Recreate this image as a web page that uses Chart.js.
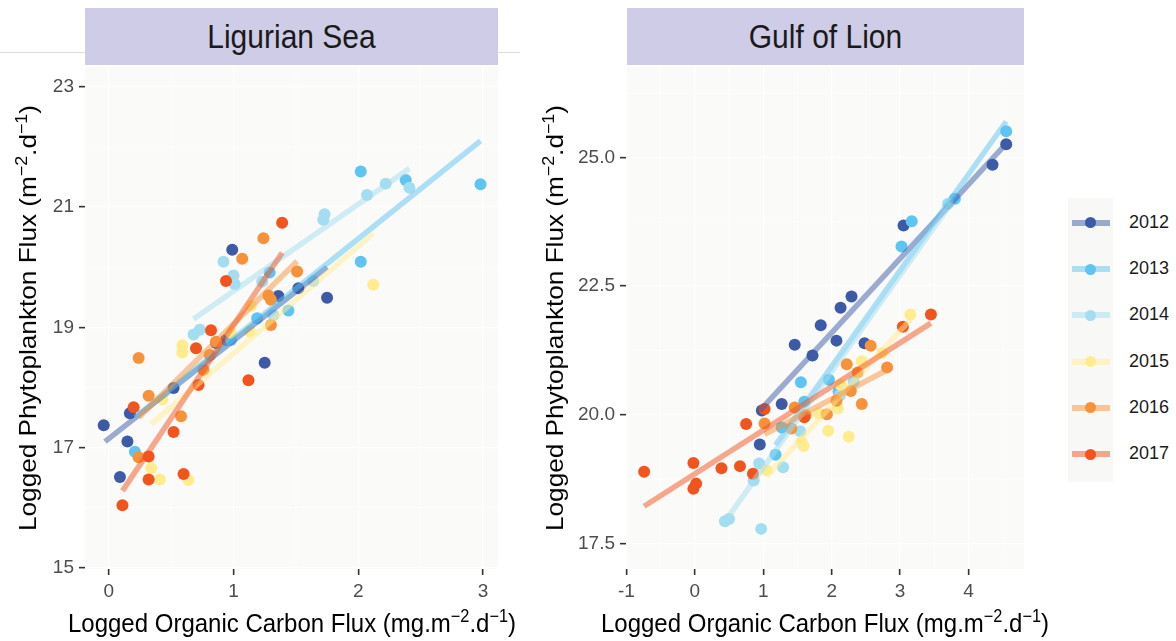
<!DOCTYPE html>
<html>
<head>
<meta charset="utf-8">
<script src="https://cdn.jsdelivr.net/npm/chart.js@4.4.1/dist/chart.umd.min.js"></script>
<style>
  body { margin: 0; background: #fff; font-family: "Liberation Sans", Arial, sans-serif; }
  #page { position: relative; width: 1176px; height: 641px; overflow: hidden; }
  .rule { position: absolute; left: 0; top: 52px; width: 520px; height: 1px; background: #dcdcdc; }
  .strip { position: absolute; top: 8px; height: 57px; background: #cecce6; color: #1a1a1a;
           font-size: 30px; display: flex; align-items: center; justify-content: center; }
  .strip span { display: inline-block; transform: scaleY(1.08); }
  .box { position: absolute; top: 61px; line-height: 0; }
  canvas { display: block; }
  .ytitle { position: absolute; top: 318px; font-size: 24px; color: #000; white-space: nowrap;
            transform: translate(-50%, -50%) rotate(-90deg) scaleX(1.09); }
  .xtitle { position: absolute; top: 609px; font-size: 24px; color: #000; white-space: nowrap;
            transform: translateX(-50%) scaleY(1.09); }
  sup { font-size: 0.68em; vertical-align: 0.55em; line-height: 0; }
  #legend { position: absolute; left: 1068px; top: 198px; width: 45px; height: 284px; background: #f8f8f6; }
  .key { position: absolute; left: 1072px; width: 38px; height: 6px; }
  .dot { position: absolute; left: 1085px; width: 11px; height: 11px; border-radius: 50%; }
  .lab { position: absolute; left: 1129px; font-size: 18px; color: #1a1a1a; }
</style>
</head>
<body>
<div id="page">
  <div class="rule"></div>
  <div class="strip" style="left:85px;width:413px;"><span>Ligurian Sea</span></div>
  <div class="strip" style="left:627px;width:397px;"><span>Gulf of Lion</span></div>

  <div class="box" style="left:0px;"><canvas id="ligurian" width="510" height="545"></canvas></div>
  <div class="box" style="left:540px;"><canvas id="lion" width="500" height="545"></canvas></div>

  <div class="ytitle" style="left:28px;">Logged Phytoplankton Flux (m<sup>−2</sup>.d<sup>−1</sup>)</div>
  <div class="ytitle" style="left:555px;">Logged Phytoplankton Flux (m<sup>−2</sup>.d<sup>−1</sup>)</div>
  <div class="xtitle" style="left:292px;">Logged Organic Carbon Flux (mg.m<sup>−2</sup>.d<sup>−1</sup>)</div>
  <div class="xtitle" style="left:825px;">Logged Organic Carbon Flux (mg.m<sup>−2</sup>.d<sup>−1</sup>)</div>

  <div id="legend"></div>
</div>

<script>
const years = ["2012", "2013", "2014", "2015", "2016", "2017"];
const yearColors = ["#3c5aa6", "#5ec4f1", "#a3ddf1", "#ffec8f", "#f7923a", "#f2541d"];

// Ligurian Sea: [log OC flux, log phyto flux]
const lig2012 = [[-0.04,17.37],[0.15,17.10],[0.09,16.51],[0.17,17.57],[0.52,17.99],[1.25,18.41],
                 [0.86,18.74],[0.94,18.79],[0.99,20.29],[1.36,19.52],[1.52,19.65],[1.75,19.49]];
const lig2013 = [[2.02,21.59],[2.38,21.45],[2.98,21.38],[2.02,20.09],[1.29,19.91],[1.44,19.28],
                 [1.19,19.15],[0.21,16.93],[0.98,18.79]];
const lig2014 = [[2.22,21.39],[2.41,21.32],[2.07,21.20],[1.73,20.88],[1.72,20.79],[0.92,20.09],
                 [1.00,19.86],[1.01,19.72],[1.23,19.76],[1.64,19.77],[0.68,18.88],[0.73,18.96],[1.32,19.20]];
const lig2015 = [[2.12,19.71],[0.59,18.70],[0.59,18.58],[0.98,18.91],[1.13,18.93],[1.14,19.36],
                 [0.43,17.80],[0.34,16.66],[0.41,16.47],[0.64,16.46]];
const lig2016 = [[1.24,20.48],[1.07,20.14],[1.51,19.93],[1.28,19.53],[1.30,19.46],[0.24,18.49],
                 [0.32,17.86],[0.58,17.52],[0.24,16.84],[0.81,18.54],[0.76,18.29],[1.30,19.04],[0.86,18.76]];
const lig2017 = [[1.39,20.74],[0.94,19.77],[0.82,18.95],[0.70,18.65],[0.72,18.04],[1.12,18.12],
                 [0.20,17.67],[0.52,17.26],[0.32,16.85],[0.32,16.47],[0.60,16.56],[0.11,16.04]];

// fitted lines, start and end
const ligFit2012 = [[-0.03,17.10],[1.75,20.00]];
const ligFit2013 = [[0.21,17.50],[2.98,22.10]];
const ligFit2014 = [[0.68,19.14],[2.41,21.64]];
const ligFit2015 = [[0.34,17.39],[2.12,20.56]];
const ligFit2016 = [[0.24,17.50],[1.51,20.10]];
const ligFit2017 = [[0.11,16.28],[1.39,20.24]];

// Gulf of Lion
const gul2012 = [[4.55,25.26],[4.35,24.86],[3.05,23.68],[2.29,22.30],[2.13,22.08],[1.84,21.74],
                 [1.46,21.36],[1.72,21.15],[2.07,21.44],[2.48,21.39],[1.27,20.21],[0.95,19.42],[0.98,20.08]];
const gul2013 = [[4.55,25.51],[3.17,23.76],[3.02,23.27],[3.80,24.20],[1.55,20.63],[1.18,19.22],
                 [1.60,20.25],[1.27,19.75],[1.96,20.68],[2.10,20.45]];
const gul2014 = [[3.70,24.10],[0.94,19.05],[0.86,18.72],[1.29,18.98],[0.44,17.93],[0.50,17.97],
                 [0.97,17.78],[1.54,19.68],[2.12,20.38],[2.32,20.64]];
const gul2015 = [[3.15,21.95],[1.05,18.92],[1.56,19.47],[1.59,19.39],[1.95,19.69],[2.25,19.57],
                 [2.09,20.12],[1.81,20.03],[2.44,21.04],[2.74,21.20],[2.13,20.58]];
const gul2016 = [[1.02,19.83],[1.41,19.73],[1.46,20.14],[1.62,19.99],[1.93,20.01],[2.07,20.27],
                 [2.28,20.46],[2.22,20.98],[2.38,20.82],[2.44,20.21],[2.57,21.34],[2.81,20.92]];
const gul2017 = [[-0.74,18.89],[-0.02,19.06],[0.02,18.66],[-0.02,18.56],[0.39,18.96],[0.66,19.00],
                 [0.85,18.85],[0.75,19.82],[1.60,19.95],[3.04,21.71],[3.45,21.95],[1.02,20.11]];

const gulFit2012 = [[0.95,20.08],[4.55,25.27]];
const gulFit2013 = [[1.18,19.41],[4.55,25.70]];
const gulFit2014 = [[0.44,17.92],[3.75,24.12]];
const gulFit2015 = [[1.05,18.80],[3.15,21.85]];
const gulFit2016 = [[1.02,19.62],[2.81,20.87]];
const gulFit2017 = [[-0.74,18.22],[3.45,21.78]];

const ligXTicks = [0, 1, 2, 3];
const ligYTicks = [15, 17, 19, 21, 23];
const gulXTicks = [-1, 0, 1, 2, 3, 4];
const gulYTicks = [17.5, 20, 22.5, 25];

Chart.defaults.font.family = '"Liberation Sans", Arial, sans-serif';

function withAlpha(hex, a) {
  const n = parseInt(hex.slice(1), 16);
  return `rgba(${n >> 16}, ${(n >> 8) & 255}, ${n & 255}, ${a})`;
}

// panel background + thin white minor grid lines halfway between breaks
const panelBg = {
  id: "panelBg",
  beforeDraw(chart) {
    const { ctx, chartArea: a } = chart;
    ctx.save();
    ctx.fillStyle = "#fafaf8";
    ctx.fillRect(a.left, a.top, a.right - a.left, a.bottom - a.top);
    ctx.restore();
  },
  beforeDatasetsDraw(chart, args, opts) {
    const { ctx, chartArea: a, scales } = chart;
    ctx.save();
    ctx.strokeStyle = "#ffffff";
    ctx.lineWidth = 0.7;
    ctx.beginPath();
    for (const v of opts.minorX || []) {
      const p = scales.x.getPixelForValue(v);
      ctx.moveTo(p, a.top); ctx.lineTo(p, a.bottom);
    }
    for (const v of opts.minorY || []) {
      const p = scales.y.getPixelForValue(v);
      ctx.moveTo(a.left, p); ctx.lineTo(a.right, p);
    }
    ctx.stroke();
    ctx.restore();
  }
};

function makePanel(id, points, fits, cfg) {
  const datasets = [];
  points.forEach((pts, i) => {
    datasets.push({
      type: "scatter",
      data: pts.map(p => ({ x: p[0], y: p[1] })),
      backgroundColor: yearColors[i],
      borderWidth: 0,
      pointRadius: 6,
      order: 12 - i
    });
  });
  fits.forEach((f, i) => {
    datasets.push({
      type: "line",
      data: f.map(p => ({ x: p[0], y: p[1] })),
      borderColor: withAlpha(yearColors[i], 0.5),
      borderWidth: 5.5,
      borderCapStyle: "butt",
      pointRadius: 0,
      fill: false,
      order: 6 - i
    });
  });

  const axis = (ticksList, min, max, fmt, fit) => ({
    type: "linear",
    min: min,
    max: max,
    afterBuildTicks: s => { s.ticks = ticksList.map(v => ({ value: v })); },
    afterFit: s => {
      fit(s);
      // no extra room for the end labels, the panel fills the box
      s.paddingTop = 0; s.paddingBottom = 0; s.paddingLeft = 0; s.paddingRight = 0;
    },
    grid: { color: "#ffffff", lineWidth: 1.3, drawTicks: true, tickLength: 6, tickColor: "#333333", tickWidth: 1.6 },
    border: { display: false },
    ticks: { color: "#4d4d4d", font: { size: 19 }, padding: 5, callback: fmt }
  });

  return new Chart(document.getElementById(id), {
    data: { datasets },
    options: {
      responsive: false,
      animation: false,
      layout: { padding: { top: 0, right: cfg.rightPad, left: 0, bottom: 0 } },
      plugins: {
        legend: { display: false },
        tooltip: { enabled: false },
        panelBg: { minorX: cfg.minorX, minorY: cfg.minorY }
      },
      scales: {
        x: axis(cfg.xTicks, cfg.xMin, cfg.xMax, v => String(v), s => { s.height = 37; }),
        y: axis(cfg.yTicks, cfg.yMin, cfg.yMax, cfg.yFmt, s => { s.width = cfg.yWidth; })
      }
    },
    plugins: [panelBg]
  });
}

makePanel("ligurian",
  [lig2012, lig2013, lig2014, lig2015, lig2016, lig2017],
  [ligFit2012, ligFit2013, ligFit2014, ligFit2015, ligFit2016, ligFit2017],
  { xMin: -0.19, xMax: 3.12, yMin: 14.98, yMax: 23.33, xTicks: ligXTicks, yTicks: ligYTicks,
    minorX: [0.5, 1.5, 2.5], minorY: [16, 18, 20, 22], yFmt: v => String(v), yWidth: 85, rightPad: 12 });

makePanel("lion",
  [gul2012, gul2013, gul2014, gul2015, gul2016, gul2017],
  [gulFit2012, gulFit2013, gulFit2014, gulFit2015, gulFit2016, gulFit2017],
  { xMin: -1.005, xMax: 4.81, yMin: 17.0, yMax: 26.76, xTicks: gulXTicks, yTicks: gulYTicks,
    minorX: [-0.5, 0.5, 1.5, 2.5, 3.5, 4.5], minorY: [18.75, 21.25, 23.75, 26.25],
    yFmt: v => v.toFixed(1), yWidth: 86, rightPad: 16 });

// legend: line + dot keys
const page = document.getElementById("page");
years.forEach((yr, i) => {
  const cy = 222.7 + i * 46.3;
  const key = document.createElement("div");
  key.className = "key";
  key.style.top = (cy - 3) + "px";
  key.style.background = withAlpha(yearColors[i], 0.5);
  const dot = document.createElement("div");
  dot.className = "dot";
  dot.style.top = (cy - 5.5) + "px";
  dot.style.background = yearColors[i];
  const lab = document.createElement("div");
  lab.className = "lab";
  lab.style.top = (cy - 11) + "px";
  lab.textContent = yr;
  page.append(key, dot, lab);
});
</script>
</body>
</html>
